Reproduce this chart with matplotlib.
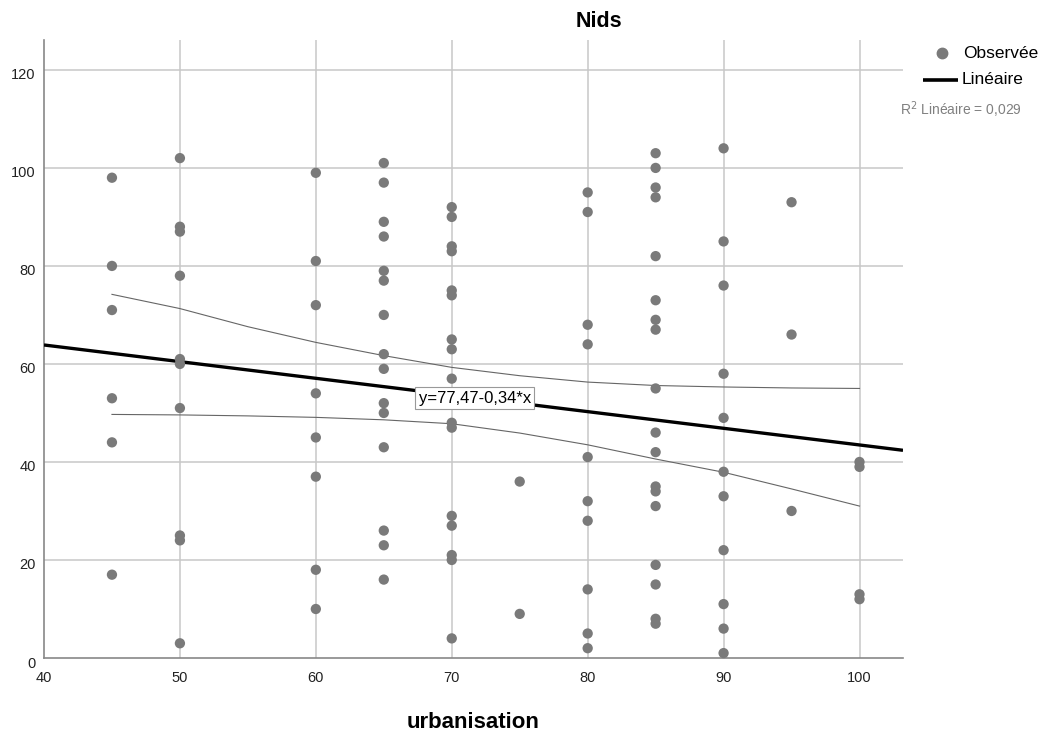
import matplotlib
matplotlib.use("Agg")
import matplotlib.pyplot as plt
import matplotlib.transforms as mtransforms
from matplotlib import font_manager
from matplotlib.lines import Line2D

plt.rcParams["font.family"] = ["Liberation Sans", "DejaVu Sans"]

# SPSS draws tick labels and the equation box in a narrow face
try:
    font_manager.findfont("Liberation Sans Narrow", fallback_to_default=False)
    narrow = ["Liberation Sans Narrow", "Liberation Sans", "DejaVu Sans"]
    tick_size, eq_size = 12.5, 14
except ValueError:
    narrow = ["Liberation Sans", "DejaVu Sans"]
    tick_size, eq_size = 10.5, 12

# urbanisation value -> observed "Nids" values
urbanisation = [45, 50, 60, 65, 70, 75, 80, 85, 90, 95, 100]
nids = [
    [98, 80, 71, 53, 44, 17],
    [102, 88, 87, 78, 61, 60, 51, 25, 24, 3],
    [99, 81, 72, 54, 45, 37, 18, 10],
    [101, 97, 89, 86, 79, 77, 70, 62, 59, 52, 50, 43, 26, 23, 16],
    [92, 90, 84, 83, 75, 74, 65, 63, 57, 48, 47, 29, 27, 21, 20, 4],
    [36, 9],
    [95, 91, 68, 64, 41, 32, 28, 14, 5, 2],
    [103, 100, 96, 94, 82, 73, 69, 67, 55, 46, 42, 35, 34, 31, 19, 15, 8, 7],
    [104, 85, 76, 58, 49, 38, 33, 22, 11, 6, 1],
    [93, 66, 30],
    [40, 39, 13, 12],
]

# linear fit
intercept = 77.47
slope = -0.34
r2 = "0,029"

# confidence band
band_x = [45, 50, 55, 60, 65, 70, 75, 80, 85, 90, 95, 100]
band_upper = [74.2, 71.3, 67.6, 64.4, 61.7, 59.3, 57.6, 56.3, 55.6, 55.3, 55.1, 55.0]
band_lower = [49.7, 49.6, 49.4, 49.1, 48.6, 47.8, 45.9, 43.5, 40.6, 37.9, 34.5, 31.0]

xs, ys = [], []
for u, vals in zip(urbanisation, nids):
    xs += [u] * len(vals)
    ys += vals

W, H = 1045, 735
fig = plt.figure(figsize=(W / 100, H / 100), dpi=100)
ax = fig.add_axes([44 / W, 77 / H, 859 / W, 618 / H])

xmin, xmax = 40, 103.2
ax.set_xlim(xmin, xmax)
ax.set_ylim(0, 126.1)

ax.set_xticks([40, 50, 60, 70, 80, 90, 100])
ax.set_yticks([0, 20, 40, 60, 80, 100, 120])
ax.tick_params(length=0, labelsize=tick_size, colors="#222222")
ax.tick_params(axis="y", pad=6)
ax.tick_params(axis="x", pad=9)
for lab in ax.get_xticklabels() + ax.get_yticklabels():
    lab.set_family(narrow)
# y labels sit a few pixels under their gridline
shift = mtransforms.ScaledTranslation(0, -4 / 100, fig.dpi_scale_trans)
for lab in ax.get_yticklabels():
    lab.set_transform(lab.get_transform() + shift)

for x in [50, 60, 70, 80, 90, 100]:
    ax.axvline(x, color="#c8c8c8", lw=1.1, zorder=0)
for y in [20, 40, 60, 80, 100, 120]:
    ax.axhline(y, color="#c8c8c8", lw=1.1, zorder=0)

for side in ["top", "right"]:
    ax.spines[side].set_visible(False)
for side in ["left", "bottom"]:
    ax.spines[side].set_color("#888888")
    ax.spines[side].set_linewidth(1.2)

ax.plot(band_x, band_upper, color="#666666", lw=0.8, zorder=2)
ax.plot(band_x, band_lower, color="#666666", lw=0.8, zorder=2)

ax.plot([xmin, xmax], [intercept + slope * xmin, intercept + slope * xmax],
        color="black", lw=2.4, zorder=3, solid_capstyle="butt")

ax.scatter(xs, ys, s=55, color="#7a7a7a", edgecolors="none", zorder=4, clip_on=False)

ax.text(71.7, 53.0, "y=77,47-0,34*x", fontsize=eq_size, family=narrow,
        ha="center", va="center", zorder=5,
        bbox=dict(boxstyle="square,pad=0.2", fc="white", ec="#999999", lw=0.8))

fig.text(599 / W, 1 - 27 / H, "Nids", fontsize=15.5, fontweight="bold",
         ha="center", va="baseline")
fig.text(473 / W, 1 - 728 / H, "urbanisation", fontsize=16, fontweight="bold",
         ha="center", va="baseline")

# legend, drawn by hand to sit where SPSS puts it
fig.add_artist(Line2D([941.5 / W], [1 - 53 / H], marker="o", ls="none",
                      color="#7a7a7a", markersize=7.5, transform=fig.transFigure))
fig.add_artist(Line2D([923 / W, 958 / W], [1 - 80 / H, 1 - 80 / H], color="black",
                      lw=2.6, transform=fig.transFigure, solid_capstyle="butt"))
fig.text(963 / W, 1 - 53 / H, "Observée", fontsize=12.5, ha="left", va="center")
fig.text(962 / W, 1 - 80 / H, "Linéaire", fontsize=12.5, ha="left", va="center")
fig.text(900 / W, 1 - 110 / H, "R$^2$ Linéaire = " + r2, fontsize=10,
         color="#808080", ha="left", va="center")

fig.savefig("out.png", dpi=100)
